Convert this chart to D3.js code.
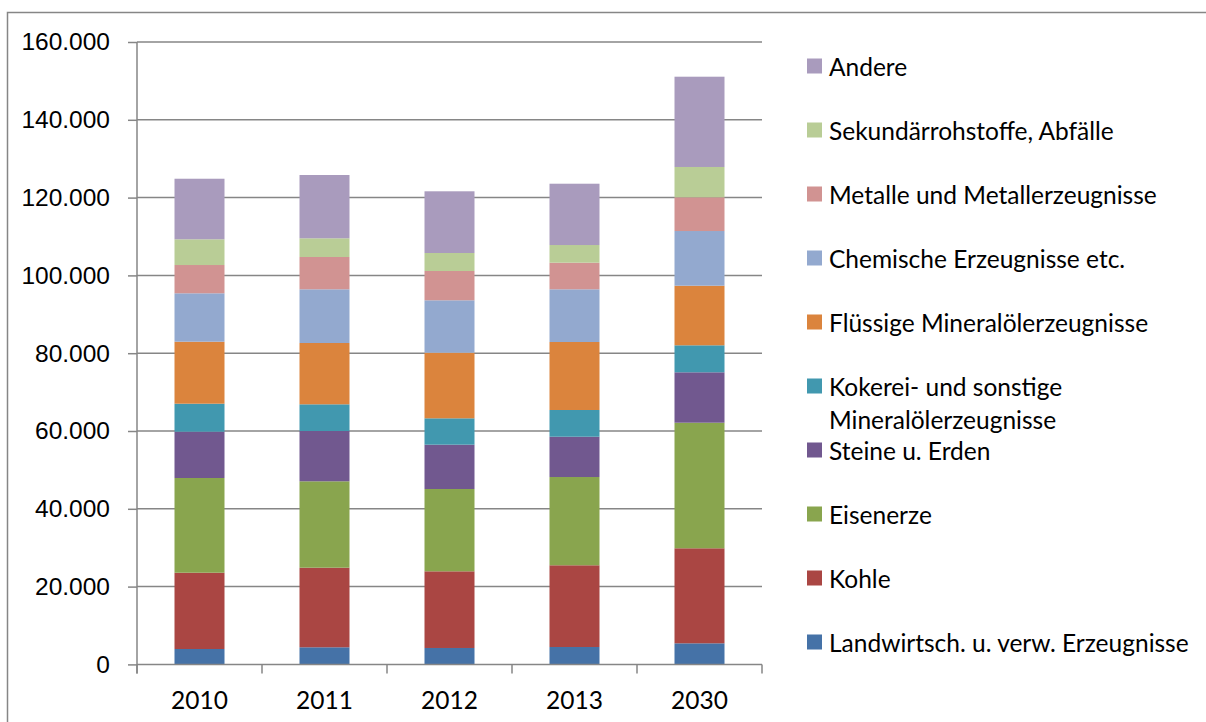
<!DOCTYPE html>
<html>
<head>
<meta charset="utf-8">
<script src="https://cdn.jsdelivr.net/npm/d3@7"></script>
<style>
  body { margin: 0; background: #fff; }
  svg { display: block; font-family: Lato, "Open Sans", sans-serif; }
</style>
</head>
<body>
<div id="chart"></div>
<script>
// categories (x axis)
var years = ['2010', '2011', '2012', '2013', '2030'];

// series, bottom of stack first
var series = [
  'Landwirtsch. u. verw. Erzeugnisse',
  'Kohle',
  'Eisenerze',
  'Steine u. Erden',
  'Kokerei- und sonstige Mineralölerzeugnisse',
  'Flüssige Mineralölerzeugnisse',
  'Chemische Erzeugnisse etc.',
  'Metalle und Metallerzeugnisse',
  'Sekundärrohstoffe, Abfälle',
  'Andere'
];

// values per series, one per year
var landwirtsch = [3960, 4400, 4220, 4470, 5420];
var kohle       = [19610, 20460, 19710, 21010, 24430];
var eisenerze   = [24350, 22210, 21160, 22690, 32280];
var steine      = [11900, 12930, 11390, 10360, 12960];
var kokerei     = [7200, 6860, 6780, 6870, 6940];
var fluessig    = [15940, 15760, 16870, 17480, 15320];
var chemie      = [12440, 13810, 13470, 13550, 14060];
var metalle     = [7270, 8300, 7530, 6840, 8670];
var sekundaer   = [6610, 4810, 4630, 4540, 7790];
var andere      = [15570, 16270, 15860, 15760, 23210];

var yTicks = [0, 20000, 40000, 60000, 80000, 100000, 120000, 140000, 160000];

var colors = ['#4572A7', '#AA4643', '#89A54E', '#71588F', '#4198AF',
              '#DB843D', '#93A9CF', '#D19392', '#B9CD96', '#A99BBD'];

// legend text, lines split where the legend wraps
var legendLines = [
  ['Landwirtsch. u. verw. Erzeugnisse'],
  ['Kohle'],
  ['Eisenerze'],
  ['Steine u. Erden'],
  ['Kokerei- und sonstige', 'Mineralölerzeugnisse'],
  ['Flüssige Mineralölerzeugnisse'],
  ['Chemische Erzeugnisse etc.'],
  ['Metalle und Metallerzeugnisse'],
  ['Sekundärrohstoffe, Abfälle'],
  ['Andere']
];

var allValues = [landwirtsch, kohle, eisenerze, steine, kokerei,
                 fluessig, chemie, metalle, sekundaer, andere];

var rows = years.map(function(y, i) {
  var r = { year: y };
  series.forEach(function(s, k) { r[s] = allValues[k][i]; });
  return r;
});

var W = 1206, H = 722;
var plot = { left: 137, right: 762, top: 42, bottom: 664.4 };
var gray = '#868686';
var fs = '24.5px';

var svg = d3.select('#chart').append('svg')
  .attr('width', W)
  .attr('height', H);

// chart frame (right and bottom edges fall outside the picture)
svg.append('rect')
  .attr('x', 7.5).attr('y', 12.5)
  .attr('width', W).attr('height', H)
  .attr('fill', 'none')
  .attr('stroke', gray)
  .attr('stroke-width', 1.5);

var x = d3.scaleBand()
  .domain(years)
  .range([plot.left, plot.right])
  .paddingInner(0.6)
  .paddingOuter(0.3);

var y = d3.scaleLinear()
  .domain([0, 160000])
  .range([plot.bottom, plot.top]);

// gridlines
svg.append('g')
  .selectAll('line')
  .data(yTicks.slice(1))
  .enter()
  .append('line')
  .attr('x1', plot.left).attr('x2', plot.right)
  .attr('y1', function(d) { return y(d); })
  .attr('y2', function(d) { return y(d); })
  .attr('stroke', gray)
  .attr('stroke-width', 1.5);

var stack = d3.stack().keys(series);
var layers = stack(rows);

svg.append('g')
  .selectAll('g')
  .data(layers)
  .enter()
  .append('g')
  .attr('fill', function(d, i) { return colors[i]; })
  .selectAll('rect')
  .data(function(d) { return d; })
  .enter()
  .append('rect')
  .attr('x', function(d) { return x(d.data.year); })
  .attr('width', x.bandwidth())
  .attr('y', function(d) { return y(d[1]); })
  .attr('height', function(d) { return y(d[0]) - y(d[1]); });

// y axis
var yAxis = d3.axisLeft(y)
  .tickValues(yTicks)
  .tickSize(9)
  .tickPadding(18)
  .tickFormat(function(d) { return d === 0 ? '0' : d3.format(',')(d).replace(/,/g, '.'); });

var gy = svg.append('g')
  .attr('transform', 'translate(' + plot.left + ',0)')
  .call(yAxis);
gy.select('.domain').attr('stroke', gray).attr('stroke-width', 1.5)
  .attr('d', 'M0,' + plot.top + 'V' + (plot.bottom + 9));
gy.selectAll('.tick line').attr('stroke', gray).attr('stroke-width', 1.5);
gy.selectAll('.tick text').attr('fill', '#000').style('font-size', fs);

// x axis: tick marks sit on the category boundaries
var step = x.step();
var bounds = d3.range(years.length + 1).map(function(i) { return plot.left + i * step; });

var gx = svg.append('g');
gx.append('line')
  .attr('x1', plot.left).attr('x2', plot.right)
  .attr('y1', plot.bottom).attr('y2', plot.bottom)
  .attr('stroke', gray).attr('stroke-width', 1.5);
gx.selectAll('line.tk')
  .data(bounds)
  .enter()
  .append('line')
  .attr('class', 'tk')
  .attr('x1', function(d) { return d; }).attr('x2', function(d) { return d; })
  .attr('y1', plot.bottom).attr('y2', plot.bottom + 9)
  .attr('stroke', gray).attr('stroke-width', 1.5);
gx.selectAll('text')
  .data(years)
  .enter()
  .append('text')
  .attr('x', function(d) { return x(d) + x.bandwidth() / 2; })
  .attr('y', 699)
  .attr('text-anchor', 'middle')
  .attr('dominant-baseline', 'central')
  .style('font-size', fs)
  .text(function(d) { return d; });

// legend, top item is the top of the stack
var legend = svg.append('g');
var order = d3.range(series.length).reverse();

var item = legend.selectAll('g')
  .data(order)
  .enter()
  .append('g')
  .attr('transform', function(d, i) { return 'translate(807,' + (66 + 64 * i) + ')'; });

item.append('rect')
  .attr('x', 0).attr('y', -7.5)
  .attr('width', 15).attr('height', 15)
  .attr('fill', function(d) { return colors[d]; });

item.each(function(d) {
  var g = d3.select(this);
  legendLines[d].forEach(function(line, j) {
    g.append('text')
      .attr('x', 22)
      .attr('y', j * 33)
      .attr('dominant-baseline', 'central')
      .style('font-size', fs)
      .text(line);
  });
});
</script>
</body>
</html>
